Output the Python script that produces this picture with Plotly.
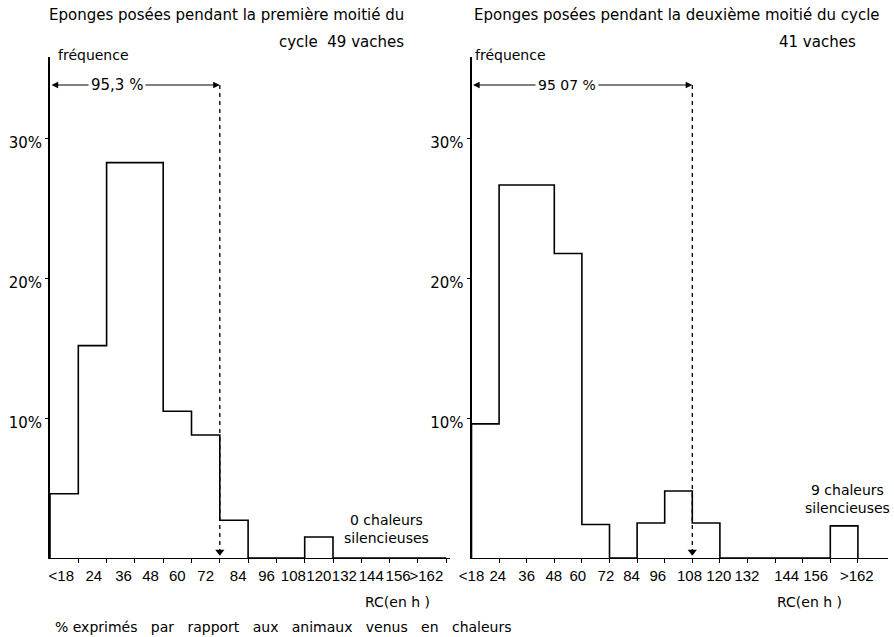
import plotly.graph_objects as go

# ---------------- data ----------------
bin_labels = ["<18", "24", "36", "48", "60", "72", "84", "96", "108", "120", "132", "144", "156", ">162"]
freq_first = [4.6, 15.2, 28.3, 28.3, 10.5, 8.8, 2.7, 0, 0, 1.5, 0, 0, 0, 0]      # % , 1re moitié du cycle (49 vaches)
freq_second = [9.6, 26.7, 26.7, 21.8, 2.4, 0, 2.5, 4.8, 2.5, 0, 0, 0, 0, 2.3]    # % , 2e moitié du cycle (41 vaches)
cum_edge_first = 6      # limite 95,3 %
cum_edge_second = 8     # limite 95 07 %
y_ticks = [10, 20, 30]
y_ticktext = ["10%", "20%", "30%"]

# label positions (in bin units) as drawn in the original figure
left_label_pos = [0.4, 1.55, 2.6, 3.55, 4.5, 5.5, 6.65, 7.65, 8.6, 9.5, 10.4, 11.35, 12.3, 13.3]
right_label_pos = [0.0, 0.95, 2.0, 2.98, 3.85, 4.87, 5.8, 6.75, 7.9, 8.96, 9.98, 11.42, 12.47, 13.96]

W, H = 894, 637
FONT = "DejaVu Sans"


def fx(p):
    return p / W


def fy(p):
    return 1 - p / H


def step_xy(vals):
    xs = [0] + list(range(0, len(vals) + 1))
    ys = [0] + list(vals) + [0]
    return xs, ys


fig = go.Figure()

panels = [
    (freq_first, "x", "y", cum_edge_first),
    (freq_second, "x2", "y2", cum_edge_second),
]
arrow_y = 33.86
for vals, xa, ya, edge in panels:
    xs, ys = step_xy(vals)
    fig.add_trace(go.Scatter(x=xs, y=ys, mode="lines", line=dict(color="black", width=1.6, shape="hv"),
                             xaxis=xa, yaxis=ya, hoverinfo="skip", showlegend=False))
    # dashed limit line
    fig.add_trace(go.Scatter(x=[edge, edge], y=[arrow_y, 0.4], mode="lines",
                             line=dict(color="black", width=1.3, dash="4px,4px"),
                             xaxis=xa, yaxis=ya, hoverinfo="skip", showlegend=False))
    fig.add_trace(go.Scatter(x=[edge], y=[0.45], mode="markers",
                             marker=dict(symbol="triangle-down", size=8, color="black"),
                             xaxis=xa, yaxis=ya, hoverinfo="skip", showlegend=False))

axis_common = dict(showgrid=False, zeroline=False, showline=True, linecolor="black", mirror=False,
                   automargin=False)
xcommon = dict(ticktext=bin_labels, ticks="", ticklen=0, tickangle=0,
               tickfont=dict(size=15, family="Liberation Sans"), linewidth=1.4,
               ticklabelstandoff=4,
               minor=dict(tickvals=list(range(1, 15)), ticks="outside", ticklen=4, tickcolor="black"))
ycommon = dict(tickvals=y_ticks, ticktext=y_ticktext, ticks="outside", ticklen=3, tickcolor="black",
               tickfont=dict(size=15), ticklabelshift=4, linewidth=2, range=[0, 501 / 13.97],
               domain=[fy(558), fy(57)])
fig.update_layout(
    width=W, height=H,
    margin=dict(l=0, r=0, t=0, b=0, autoexpand=False),
    paper_bgcolor="white", plot_bgcolor="white",
    font=dict(family=FONT, color="black", size=14),
    xaxis=dict(domain=[fx(50), fx(450)], range=[0, 400 / 28.3], anchor="y",
               tickvals=left_label_pos, **xcommon, **axis_common),
    xaxis2=dict(domain=[fx(471.5), fx(888)], range=[0, 416.5 / 27.6], anchor="y2",
                tickvals=right_label_pos, **xcommon, **axis_common),
    yaxis=dict(anchor="x", **ycommon, **axis_common),
    yaxis2=dict(anchor="x2", **ycommon, **axis_common),
)

ann = []
# double arrows
for xa, ya, edge in [("x", "y", cum_edge_first), ("x2", "y2", cum_edge_second)]:
    ann.append(dict(x=edge, y=arrow_y, ax=0, ay=arrow_y, xref=xa, yref=ya, axref=xa, ayref=ya,
                    text="", showarrow=True, arrowhead=2, startarrowhead=2, arrowside="end+start",
                    arrowsize=1.1, arrowwidth=1.2, arrowcolor="black", standoff=0, startstandoff=0))
ann.append(dict(x=2.37, y=arrow_y, xref="x", yref="y", text="95,3 %", showarrow=False,
                bgcolor="white", font=dict(size=15), borderpad=2))
ann.append(dict(x=3.46, y=arrow_y, xref="x2", yref="y2", text="95 07 %", showarrow=False,
                bgcolor="white", font=dict(size=14), borderpad=2))


def ptext(text, x, y, xanchor="left", size=14, yanchor="middle"):
    ann.append(dict(x=fx(x), y=fy(y), xref="paper", yref="paper", text=text, showarrow=False,
                    xanchor=xanchor, yanchor=yanchor, font=dict(size=size)))


ptext("Eponges posées pendant la première moitié du", 47, 15, size=15)
ptext("cycle  49 vaches", 406, 42, xanchor="right", size=15)
ptext("Eponges posées pendant la deuxième moitié du cycle", 472, 15, size=15)
ptext("41 vaches", 858, 42, xanchor="right", size=15)
ptext("fréquence", 56, 55, size=14)
ptext("fréquence", 473, 55, size=14)
ptext("0 chaleurs<br>silencieuses", 342, 529, size=14)
ptext("9 chaleurs<br>silencieuses", 803, 499, size=14)
ptext("RC(en h )", 363, 602, size=14)
ptext("RC(en h )", 775, 602, size=14)
ptext("% exprimés   par   rapport   aux   animaux   venus   en   chaleurs", 53, 627, size=14)

fig.update_layout(annotations=ann)
fig.write_html("out.html")
